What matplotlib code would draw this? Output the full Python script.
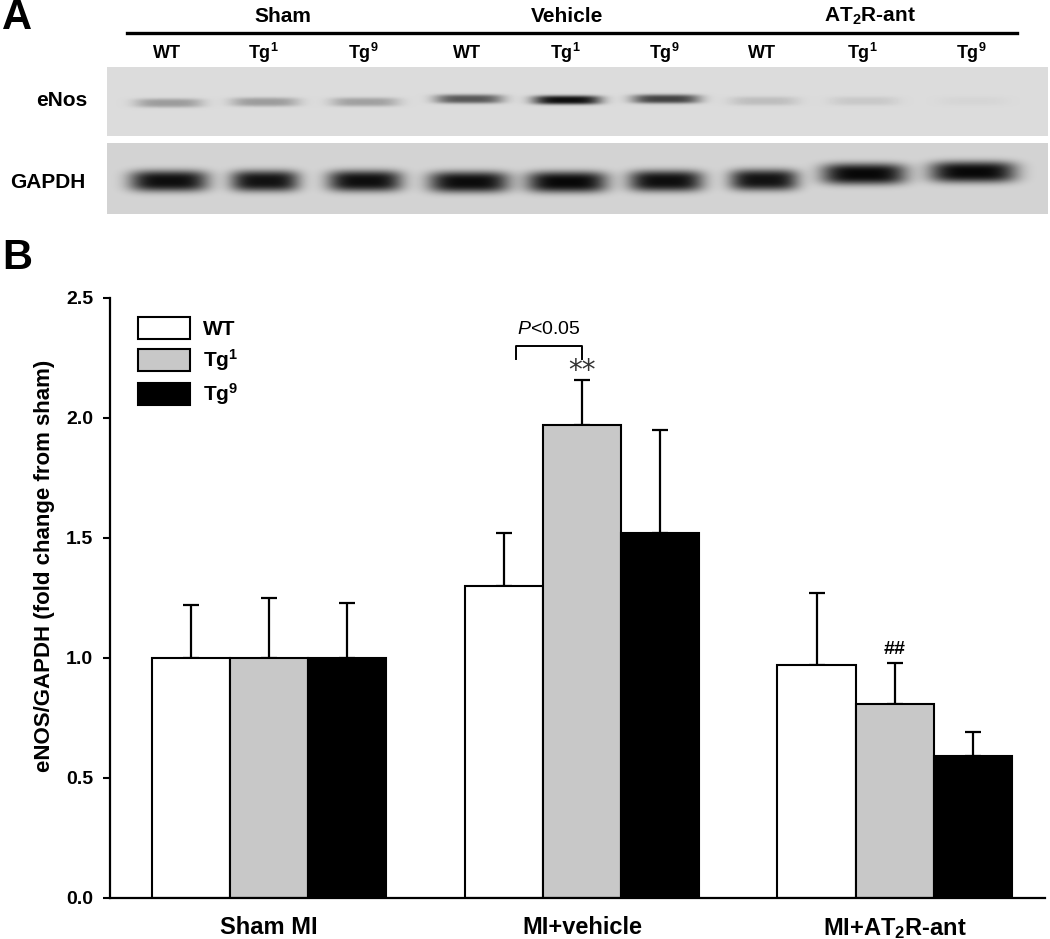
import numpy as np
import matplotlib.pyplot as plt

plt.rcParams['font.family'] = ['Liberation Sans', 'DejaVu Sans']
plt.rcParams['mathtext.fontset'] = 'custom'
plt.rcParams['mathtext.rm'] = 'Liberation Sans'
plt.rcParams['mathtext.bf'] = 'Liberation Sans:bold'
plt.rcParams['mathtext.it'] = 'Liberation Sans:italic'

# ---- panel B data ----
groups = ['Sham MI', 'MI+vehicle', r'MI+AT$_\mathbf{2}$R-ant']
series = ['WT', r'Tg$^\mathbf{1}$', r'Tg$^\mathbf{9}$']
wt_mean = [1.00, 1.30, 0.97]
wt_sem = [0.22, 0.22, 0.30]
tg1_mean = [1.00, 1.97, 0.81]
tg1_sem = [0.25, 0.19, 0.17]
tg9_mean = [1.00, 1.52, 0.59]
tg9_sem = [0.23, 0.43, 0.10]

# ---- panel A (blot) data ----
blot_groups = ['Sham', 'Vehicle', r'AT$_\mathbf{2}$R-ant']
lanes = ['WT', r'Tg$^\mathbf{1}$', r'Tg$^\mathbf{9}$'] * 3
enos_density = [0.30, 0.30, 0.28, 0.62, 0.97, 0.72, 0.14, 0.09, 0.03]
gapdh_density = [0.97, 0.95, 0.97, 0.98, 1.00, 0.97, 0.95, 1.00, 1.00]

W, H = 1050, 939
fig = plt.figure(figsize=(10.5, 9.39), dpi=100)


def fx(x):
    return x / W


def fy(y):
    return 1 - y / H


# ---------------- panel A ----------------
lane_x = [169, 265, 365, 469, 567, 666, 764, 864, 973]
x0, x1 = 107, 1048


def strip(top, bottom, dens, yc, halfw, hh, bg):
    ax = fig.add_axes([fx(x0), fy(bottom), fx(x1) - fx(x0), fy(top) - fy(bottom)])
    xs = np.arange(x0, x1) + 0.5
    ys = np.arange(top, bottom) + 0.5
    X, Y = np.meshgrid(xs, ys)
    img = np.full(X.shape, bg)
    for c, d, y0, w in zip(lane_x, dens, yc, halfw):
        prof = np.exp(-np.abs((X - c) / w) ** 4) * np.exp(-np.abs((Y - y0) / hh) ** 3)
        img = img - (bg - 0.03) * d * prof
    ax.imshow(img, cmap='gray', vmin=0, vmax=1, aspect='auto',
              extent=(x0, x1, bottom, top), interpolation='bilinear')
    ax.axis('off')
    return ax


strip(67, 136, enos_density, [103, 102, 102, 99, 100, 99, 101, 101, 101],
      [34] * 9, 4.5, 0.86)
strip(143, 214, gapdh_density, [181, 181, 181, 182, 182, 181, 180, 174, 172],
      [39, 34, 37, 40, 40, 37, 34, 42, 43], 10.5, 0.83)

fig.text(fx(62), fy(101), 'eNos', fontsize=15, fontweight='bold', ha='center', va='center')
fig.text(fx(48), fy(183), 'GAPDH', fontsize=15, fontweight='bold', ha='center', va='center')

for name, cx in zip(blot_groups, [283, 567, 870]):
    fig.text(fx(cx), fy(16), name, fontsize=15, fontweight='bold', ha='center', va='center')
fig.add_artist(plt.Line2D([fx(127), fx(1017)], [fy(33), fy(33)], color='black', lw=2.4))
for name, cx in zip(lanes, lane_x):
    fig.text(fx(cx - 2), fy(53), name, fontsize=13, fontweight='bold', ha='center', va='center')

fig.text(fx(2), fy(-2), 'A', fontsize=30, fontweight='bold', ha='left', va='top')
fig.text(fx(2), fy(238), 'B', fontsize=30, fontweight='bold', ha='left', va='top')

# ---------------- panel B ----------------
ax = fig.add_axes([fx(110), fy(898), fx(1045) - fx(110), fy(298) - fy(898)])
x = np.arange(len(groups))
width = 0.25
colors = ['white', '#c8c8c8', 'black']
means = [wt_mean, tg1_mean, tg9_mean]
sems = [wt_sem, tg1_sem, tg9_sem]

handles = []
for i, (m, s, c, lab) in enumerate(zip(means, sems, colors, series)):
    pos = x + (i - 1) * width
    ax.errorbar(pos, m, yerr=[np.zeros(len(s)), s], fmt='none', ecolor='black',
                elinewidth=1.6, capsize=6, capthick=1.6, zorder=1)
    b = ax.bar(pos, m, width, color=c, edgecolor='black', linewidth=1.5,
               label=lab, zorder=2)
    handles.append(b)

ax.set_xlim(-0.508, 2.48)
ax.set_ylim(0, 2.5)
ax.set_yticks([0, 0.5, 1.0, 1.5, 2.0, 2.5])
ax.set_yticklabels(['0.0', '0.5', '1.0', '1.5', '2.0', '2.5'])
ax.set_xticks(x)
ax.set_xticklabels(groups)
ax.tick_params(axis='x', length=0, pad=13, labelsize=17)
ax.tick_params(axis='y', length=5, width=1.5, pad=7, labelsize=14)
for lbl in ax.get_xticklabels() + ax.get_yticklabels():
    lbl.set_fontweight('bold')
for side in ['top', 'right']:
    ax.spines[side].set_visible(False)
for side in ['left', 'bottom']:
    ax.spines[side].set_linewidth(1.6)
ax.set_ylabel('eNOS/GAPDH (fold change from sham)', fontsize=16, fontweight='bold')
ax.yaxis.set_label_coords(-0.059, 0.553)

ax.legend(handles=handles, loc='upper left', bbox_to_anchor=(fx(138), fy(317)),
          bbox_transform=fig.transFigure, frameon=False, borderpad=0,
          borderaxespad=0, handlelength=2.5, handleheight=1.25,
          handletextpad=0.6, labelspacing=0.4,
          prop={'size': 15, 'weight': 'bold'})

# significance marks
ax.plot([1 - 0.21, 1 - 0.21, 1.0, 1.0], [2.246, 2.30, 2.30, 2.246], color='black', lw=1.4)
ax.text(1 - 0.105, 2.367, r'$\it{P}$<0.05', fontsize=14, ha='center', va='center')
ax.text(1.0, 2.255, '**', fontsize=20, ha='center', va='top', color='#333333',
        family='DejaVu Sans')
ax.text(2.0, 1.0, '##', fontsize=14, fontweight='bold', ha='center', va='bottom')

fig.savefig('out.png', dpi=100)
